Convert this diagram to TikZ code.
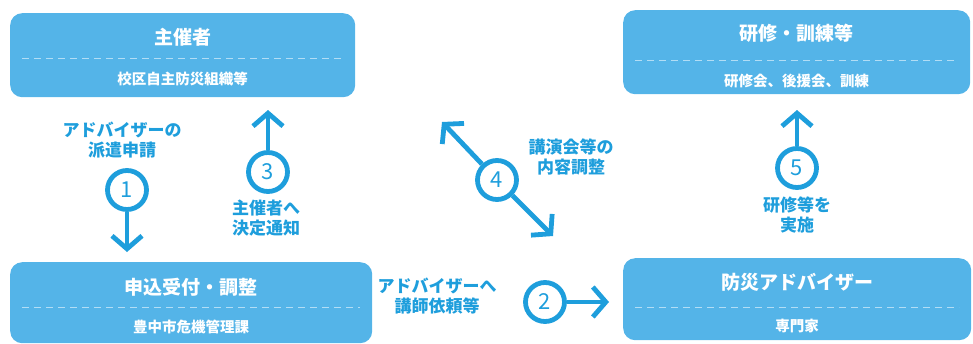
\documentclass[tikz,border=0pt]{standalone}
\usepackage{fontspec}
\usetikzlibrary{arrows.meta}
\newfontfamily\jp{Noto Sans CJK JP}
\definecolor{boxblue}{RGB}{84,180,232}
\definecolor{arrowblue}{RGB}{30,158,220}
\begin{document}
\begin{tikzpicture}[x=1pt,y=-1pt,
  box/.style={fill=boxblue, rounded corners=12pt, inner sep=0pt, anchor=north west},
  ttl/.style={text=white, font=\jp\bfseries\fontsize{19}{22}\selectfont, inner sep=0pt},
  sub/.style={text=white, font=\jp\bfseries\fontsize{14.5}{17}\selectfont, inner sep=0pt},
  lbl/.style={text=arrowblue, font=\jp\bfseries\fontsize{17}{20.5}\selectfont, align=center, inner sep=0pt},
  num/.style={circle, draw=arrowblue, line width=4.8pt, minimum size=39pt, inner sep=0pt, text=arrowblue, font=\jp\fontsize{22}{22}\selectfont},
  conn/.style={draw=arrowblue, line width=4.8pt, -{Straight Barb[length=13pt,width=30pt]}},
  dline/.style={draw=boxblue!45!white, line width=0.9pt, dash pattern=on 7pt off 5pt}
]
\useasboundingbox (0,0) rectangle (973,343);
% boxes
\node[box, minimum width=345pt, minimum height=84pt] (A) at (10,13) {};
\node[box, minimum width=347pt, minimum height=84pt] (B) at (623,10) {};
\node[box, minimum width=362pt, minimum height=81pt] (C) at (10,262) {};
\node[box, minimum width=348pt, minimum height=82pt] (D) at (623,258) {};
% box texts
\node[ttl] (At) at (182.5,37) {主催者};
\draw[dline] (22,58) -- (343,58);
\node[sub] (As) at (182.5,79) {校区自主防災組織等};
\node[ttl] (Bt) at (796.5,33) {研修・訓練等};
\draw[dline] (635,60) -- (958,60);
\node[sub] (Bs) at (796.5,81) {研修会、後援会、訓練};
\node[ttl] (Ct) at (191,287) {申込受付・調整};
\draw[dline] (22,307) -- (360,307);
\node[sub] (Cs) at (191,327) {豊中市危機管理課};
\node[ttl] (Dt) at (797,282) {防災アドバイザー};
\draw[dline] (635,307) -- (959,307);
\node[sub] (Ds) at (797,326) {専門家};
% numbered circles
\node[num] (c1) at (127,190) {1};
\node[num] (c2) at (545,302) {2};
\node[num] (c3) at (268,172) {3};
\node[num] (c4) at (497,180) {4};
\node[num] (c5) at (797,168) {5};
% arrow ends
\coordinate (e1) at (127,252);
\coordinate (e2) at (609,302);
\coordinate (e3) at (268,110);
\coordinate (e4a) at (442,122);
\coordinate (e4b) at (553,236);
\coordinate (e5) at (797,110);
\draw[conn] (c1) -- (e1);
\draw[conn] (c2) -- (e2);
\draw[conn] (c3) -- (e3);
\draw[conn] (c4) -- (e4a);
\draw[conn] (c4) -- (e4b);
\draw[conn] (c5) -- (e5);
% labels
\node[lbl] (l1) at (122,140) {アドバイザーの\\派遣申請};
\node[lbl] (l2) at (437,296) {アドバイザーへ\\講師依頼等};
\node[lbl] (l3) at (266,218) {主催者へ\\決定通知};
\node[lbl] (l4) at (571,157) {講演会等の\\内容調整};
\node[lbl] (l5) at (797,215) {研修等を\\実施};
\end{tikzpicture}
\end{document}
